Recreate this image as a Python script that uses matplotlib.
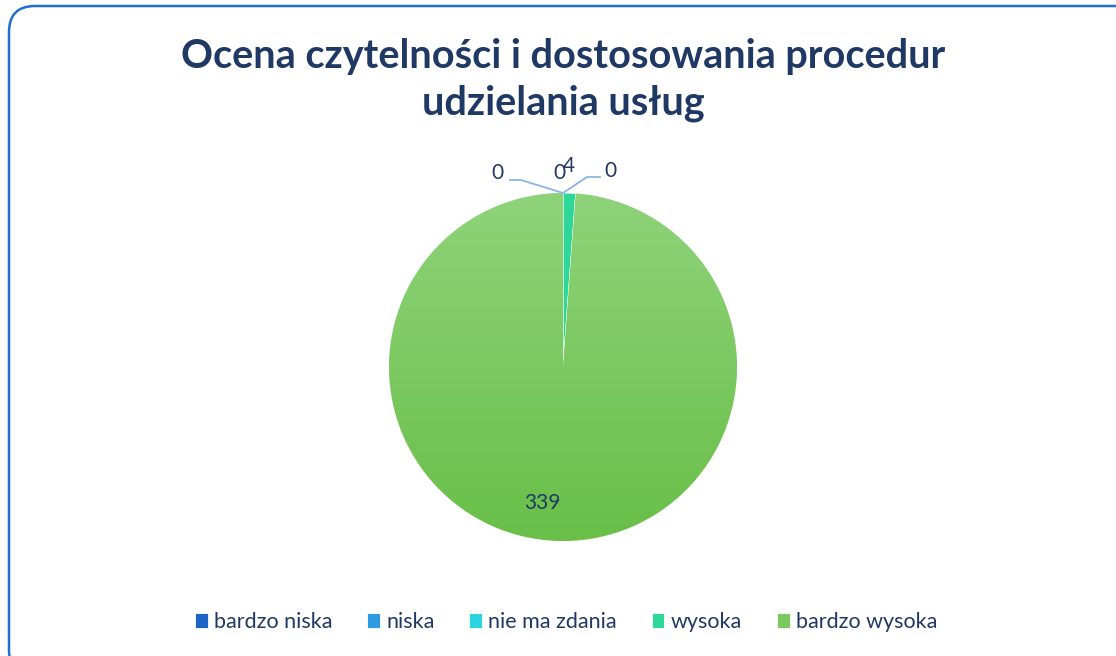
import numpy as np
import matplotlib.pyplot as plt
from matplotlib.patches import FancyBboxPatch
from matplotlib.colors import LinearSegmentedColormap

categories = ['bardzo niska', 'niska', 'nie ma zdania', 'wysoka', 'bardzo wysoka']
values = [0, 0, 0, 4, 339]
colors = ['#1F63C6', '#2E9BE0', '#2ED3E0', '#2FD699', '#7BCA60']
title = 'Ocena czytelności i dostosowania procedur\nudzielania usług'

W, H = 1116, 656
navy = '#1F3864'

fig = plt.figure(figsize=(W / 100, H / 100), dpi=100)
ax = fig.add_axes([0, 0, 1, 1])

# rounded frame, running off the right and bottom edges
frame = FancyBboxPatch((9, -20), W + 20, H - 6 + 20,
                       boxstyle='round,pad=0,rounding_size=26',
                       fc='white', ec='#1E6FD0', lw=1.8, zorder=0)
ax.add_patch(frame)

cx, cy, r = 563, H - 367, 174
wedges, _ = ax.pie(values, colors=colors, startangle=90, counterclock=False,
                   center=(cx, cy), radius=r, frame=True,
                   wedgeprops=dict(linewidth=0.6, edgecolor='white'))

# soft vertical gradient on the big slice, lighter at the top
big = wedges[-1]
cmap = LinearSegmentedColormap.from_list('g', ['#8ED37A', '#69BF48'])
grad = np.linspace(0, 1, 256).reshape(-1, 1)
im = ax.imshow(grad, cmap=cmap, extent=(cx - r, cx + r, cy - r, cy + r),
               origin='upper', zorder=1.5, aspect='auto')
im.set_clip_path(big)

ax.set_xlim(0, W)
ax.set_ylim(0, H)
ax.set_aspect('equal')
ax.axis('off')

ax.text(W / 2 + 5, H - 80, title, ha='center', va='center', fontsize=28.5,
        fontweight='bold', color=navy, family='Lato', linespacing=1.3)

# data labels
total = sum(values)
lab_kw = dict(fontsize=15, color=navy, family='Lato', ha='center', va='center')
top = (cx, cy + r)
lc = '#8DB4E2'
ax.text(497, H - 173, str(values[0]), **lab_kw)
ax.plot([510, 521, top[0]], [H - 180, H - 180, top[1]], color=lc, lw=1.3)
ax.text(559, H - 173, str(values[1]), **lab_kw)
ax.text(610, H - 171, str(values[2]), **lab_kw)
ax.plot([600, 587, top[0]], [H - 177, H - 177, top[1]], color=lc, lw=1.3)
ax.text(569, H - 166, str(values[3]), **lab_kw)
mid = np.deg2rad(90 - (values[3] + values[4] / 2) / total * 360)
ax.text(cx + 0.78 * r * np.cos(mid) - 16, cy + 0.78 * r * np.sin(mid),
        str(values[4]), **lab_kw)

leg = ax.legend(wedges, categories, loc='center', bbox_to_anchor=(566 / W, 1 - 622 / H),
                ncol=5, frameon=False, handlelength=0.6, handleheight=0.75,
                handletextpad=0.3, columnspacing=1.6,
                prop=dict(family='Lato', size=15.5))
for t in leg.get_texts():
    t.set_color(navy)

fig.savefig('out.png', dpi=100)
